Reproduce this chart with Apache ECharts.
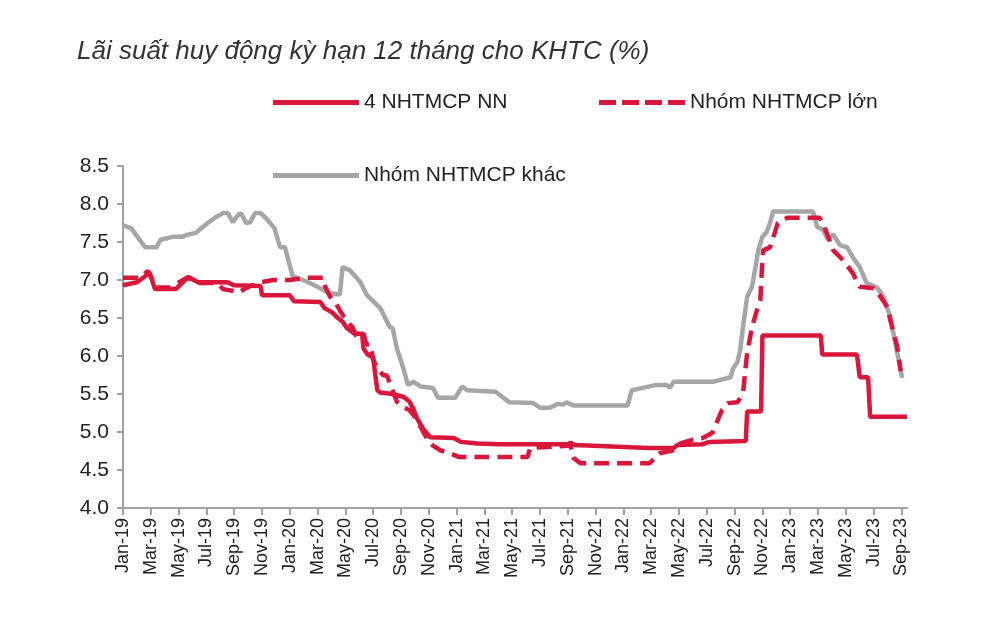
<!DOCTYPE html>
<html>
<head>
<meta charset="utf-8">
<script src="https://cdn.jsdelivr.net/npm/echarts@6/dist/echarts.min.js"></script>
<style>
  html, body { margin: 0; padding: 0; background: #fff; }
  #chart { width: 1000px; height: 626px; }
</style>
</head>
<body>
<div id="chart"></div>
<script>
// tick labels, one every 2 months (x = months since Jan-19)
var monthLabels = ['Jan-19','Mar-19','May-19','Jul-19','Sep-19','Nov-19',
  'Jan-20','Mar-20','May-20','Jul-20','Sep-20','Nov-20',
  'Jan-21','Mar-21','May-21','Jul-21','Sep-21','Nov-21',
  'Jan-22','Mar-22','May-22','Jul-22','Sep-22','Nov-22',
  'Jan-23','Mar-23','May-23','Jul-23','Sep-23'];

var seriesNames = ['4 NHTMCP NN', 'Nhóm NHTMCP lớn', 'Nhóm NHTMCP khác'];

// [month index, rate %]
var nnData = [[0,6.93],[1.0,6.97],[1.6,7.05],[1.9,7.1],[2.3,6.88],[3.8,6.88],[4.7,7.04],
  [5.4,6.97],[7.5,6.97],[8.0,6.93],[9.9,6.92],[10.0,6.8],[12.0,6.8],[12.3,6.72],
  [14.2,6.71],[14.5,6.63],[15.0,6.58],[15.4,6.51],[15.8,6.45],[16.1,6.37],[16.6,6.3],
  [17.2,6.29],[17.3,6.1],[17.6,6.02],[18.0,5.98],[18.15,5.75],[18.3,5.55],[18.5,5.52],
  [19.4,5.5],[20.2,5.46],[20.6,5.4],[20.9,5.3],[21.15,5.18],[21.6,5.04],[22.1,4.93],
  [23.8,4.92],[24.3,4.87],[25.5,4.85],[27.1,4.84],[32.0,4.84],[32.2,4.86],[32.5,4.83],
  [36.5,4.8],[37.9,4.79],[39.6,4.79],[39.9,4.83],[41.7,4.84],[42.2,4.87],[44.8,4.88],
  [44.9,5.27],[45.9,5.27],[46.0,6.27],[50.2,6.27],[50.3,6.02],[52.8,6.02],[53.0,5.72],
  [53.6,5.72],[53.75,5.2],[56.4,5.2]];

var bigData = [[0,7.03],[1.2,7.03],[1.8,7.12],[2.4,6.9],[3.4,6.9],[4.6,7.03],[5.5,6.96],
  [6.8,6.96],[7.2,6.88],[8.4,6.84],[8.9,6.9],[9.9,6.97],[10.8,7.0],[12.0,7.0],[13.2,7.03],
  [14.4,7.03],[14.5,6.93],[14.9,6.78],[15.3,6.7],[15.6,6.6],[16.1,6.46],[16.5,6.38],
  [16.8,6.25],[17.3,6.3],[17.5,6.15],[17.8,6.15],[18.0,5.95],[18.3,5.84],[18.7,5.75],
  [19.0,5.74],[19.2,5.64],[19.7,5.4],[20.1,5.33],[20.6,5.29],[21.0,5.2],[21.4,5.07],
  [21.9,4.9],[22.3,4.82],[22.8,4.76],[23.8,4.7],[24.2,4.67],[29.1,4.67],[29.3,4.79],
  [32.0,4.82],[32.2,4.82],[32.4,4.66],[32.9,4.59],[37.9,4.59],[38.3,4.67],[38.6,4.72],
  [39.6,4.76],[40.1,4.85],[41.0,4.9],[41.7,4.92],[42.4,4.99],[42.7,5.12],[43.1,5.29],
  [43.5,5.38],[44.2,5.39],[44.6,5.5],[44.75,5.78],[44.9,6.04],[45.25,6.38],[45.6,6.6],
  [45.85,6.74],[45.97,7.17],[46.05,7.39],[46.55,7.43],[46.9,7.63],[47.1,7.75],[47.8,7.82],
  [50.1,7.82],[50.35,7.75],[51.1,7.39],[51.8,7.26],[52.5,7.09],[53.0,6.91],[54.0,6.89],
  [54.5,6.78],[55.0,6.64],[55.2,6.47],[55.7,6.12],[55.95,5.8]];

var otherData = [[0,7.72],[0.6,7.68],[1.6,7.43],[2.4,7.43],[2.7,7.53],[3.2,7.55],[3.6,7.57],
  [4.3,7.57],[4.5,7.59],[5.25,7.62],[5.5,7.66],[6.1,7.75],[6.7,7.83],[7.2,7.88],[7.55,7.88],
  [7.9,7.76],[8.3,7.86],[8.5,7.88],[8.85,7.75],[9.15,7.76],[9.5,7.88],[9.9,7.88],[10.4,7.79],
  [10.9,7.68],[11.3,7.43],[11.65,7.43],[12.2,7.05],[13.2,6.98],[14.0,6.91],[14.75,6.83],
  [15.6,6.81],[15.8,7.17],[16.3,7.13],[17.05,6.98],[17.55,6.8],[18.5,6.63],[19.2,6.38],
  [19.4,6.37],[19.7,6.1],[20.1,5.88],[20.5,5.62],[20.9,5.66],[21.4,5.6],[22.3,5.58],
  [22.66,5.45],[23.9,5.45],[24.4,5.6],[24.75,5.55],[26.8,5.53],[27.8,5.39],[29.5,5.38],
  [30.0,5.32],[30.7,5.32],[31.3,5.37],[31.65,5.36],[31.9,5.39],[32.4,5.35],[36.3,5.35],
  [36.6,5.55],[37.4,5.58],[38.4,5.62],[39.1,5.62],[39.35,5.58],[39.6,5.66],[42.45,5.66],
  [43.7,5.72],[43.9,5.84],[44.2,5.92],[44.4,6.08],[44.6,6.38],[44.9,6.78],[45.25,6.91],
  [45.5,7.17],[45.7,7.39],[46.0,7.57],[46.3,7.63],[46.55,7.75],[46.76,7.9],[49.64,7.9],
  [49.93,7.7],[50.36,7.66],[50.72,7.53],[51.08,7.6],[51.58,7.46],[52.1,7.43],[52.5,7.3],
  [53.0,7.17],[53.5,6.96],[54.25,6.9],[54.7,6.78],[55.2,6.51],[55.7,6.04],[56.05,5.71]];

var RED = '#d9173a';
var GREY = '#a6a6a6';
var FONT = "'Liberation Sans Narrow', 'Liberation Sans', Arial, sans-serif";

// legend keys: a solid bar and a bar of four dashes
var SOLID_KEY = 'path://M0,0H86V5H0Z';
var DASH_KEY = 'path://M0,0H17V5H0Z M23,0H40V5H23Z M46,0H63V5H46Z M69,0H86V5H69Z';

var tickValues = monthLabels.map(function (l, i) { return i * 2; });

var chart = echarts.init(document.getElementById('chart'));

var legendBase = {
    orient: 'horizontal',
    itemWidth: 86,
    itemHeight: 5,
    itemGap: 8,
    textStyle: { fontFamily: FONT, fontSize: 21, color: '#222' }
};

chart.setOption({
    backgroundColor: '#fff',
    animation: false,
    title: {
        text: 'Lãi suất huy động kỳ hạn 12 tháng cho KHTC (%)',
        left: 72,
        top: 34,
        textStyle: {
            fontFamily: FONT,
            fontStyle: 'italic',
            fontWeight: 'normal',
            fontSize: 26,
            color: '#333'
        }
    },
    legend: [
        Object.assign({}, legendBase, { data: [{ name: seriesNames[0], icon: SOLID_KEY }], left: 268, top: 87 }),
        Object.assign({}, legendBase, { data: [{ name: seriesNames[1], icon: DASH_KEY }], left: 594, top: 87 }),
        Object.assign({}, legendBase, { data: [{ name: seriesNames[2], icon: SOLID_KEY }], left: 268, top: 160 })
    ],
    grid: { left: 123, right: 93, top: 166, bottom: 118 },
    xAxis: {
        type: 'value',
        min: 0,
        max: 56.4,
        interval: 2,
        splitLine: { show: false },
        axisLine: { lineStyle: { color: '#a0a0a0', width: 2 } },
        axisTick: { show: true, length: 7, customValues: tickValues,
            lineStyle: { color: '#a0a0a0', width: 2 } },
        axisLabel: {
            customValues: tickValues,
            rotate: 90,
            margin: 10,
            fontFamily: FONT,
            fontSize: 18,
            color: '#222',
            formatter: function (v) { return monthLabels[Math.round(v / 2)] || ''; }
        }
    },
    yAxis: {
        type: 'value',
        min: 4,
        max: 8.5,
        interval: 0.5,
        splitLine: { show: false },
        axisLine: { show: true, lineStyle: { color: '#a0a0a0', width: 2 } },
        axisTick: { show: true, length: 6, lineStyle: { color: '#a0a0a0', width: 2 } },
        axisLabel: {
            margin: 14,
            fontFamily: FONT,
            fontSize: 21,
            color: '#222',
            formatter: function (v) { return v.toFixed(1); }
        }
    },
    series: [
        {
            name: seriesNames[0],
            type: 'line',
            data: nnData,
            symbol: 'none',
            z: 3,
            lineStyle: { color: RED, width: 4.5 },
            itemStyle: { color: RED }
        },
        {
            name: seriesNames[1],
            type: 'line',
            data: bigData,
            symbol: 'none',
            z: 4,
            lineStyle: { color: RED, width: 4.5, type: [15, 8] },
            itemStyle: { color: RED }
        },
        {
            name: seriesNames[2],
            type: 'line',
            data: otherData,
            symbol: 'none',
            z: 2,
            lineStyle: { color: GREY, width: 4.5 },
            itemStyle: { color: GREY }
        }
    ]
});
</script>
</body>
</html>
